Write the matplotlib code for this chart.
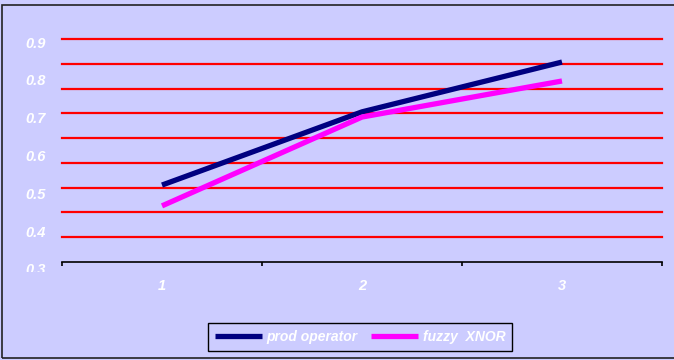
import matplotlib
matplotlib.use("Agg")
import matplotlib.pyplot as plt
from matplotlib.patches import Rectangle
from matplotlib.transforms import ScaledTranslation, Bbox
import numpy as np

# series values per trial
categories = ["1", "2", "3"]
prod_operator = [0.507, 0.704, 0.838]
fuzzy_xnor = [0.451, 0.690, 0.787]

y_labels = ["0.3", "0.4", "0.5", "0.6", "0.7", "0.8", "0.9"]
y_min, y_max = 0.3, 0.9

bg = "#CCCCFF"
plt.rcParams["font.family"] = ["Liberation Sans", "DejaVu Sans"]

fig = plt.figure(figsize=(6.74, 3.60), dpi=100, facecolor=bg)
ax = fig.add_axes([62 / 674, 98 / 360, 600 / 674, 223 / 360], facecolor=bg)

x = np.arange(1, len(categories) + 1)

# red grid: nine even bands across the value range
for g in np.linspace(y_min, y_max, 10)[1:]:
    ax.axhline(g, color="#FF0000", lw=1.6, zorder=1, clip_on=False)

ax.plot(x, prod_operator, color="#000080", lw=3.8, label="prod operator",
        solid_capstyle="butt", zorder=3)
ax.plot(x, fuzzy_xnor, color="#FF00FF", lw=3.8, label="fuzzy  XNOR",
        solid_capstyle="butt", zorder=4)

ax.set_xlim(0.5, len(categories) + 0.5)
ax.set_ylim(y_min, y_max)

for s in ["top", "right", "left"]:
    ax.spines[s].set_visible(False)
ax.spines["bottom"].set_color("black")
ax.spines["bottom"].set_linewidth(1.2)

txt = dict(color="white", fontweight="bold", fontstyle="italic", fontsize=10.5)

ax.set_yticks([float(v) for v in y_labels])
ax.set_yticklabels(y_labels, **txt)
ax.tick_params(axis="y", length=0, pad=12)

# value labels sit a little lower than their grid values, more so near the bottom
for lab, v in zip(ax.get_yticklabels(), y_labels):
    drop = 3 + (y_max - float(v)) / (y_max - y_min) * 4
    lab.set_transform(lab.get_transform()
                      + ScaledTranslation(0, -drop / 100, fig.dpi_scale_trans))
# lowest label is cut off by the chart area just under the axis
low = ax.get_yticklabels()[0]
low.set_clip_on(True)
low.set_clip_box(Bbox.from_extents(0, 360 - 272, 674, 360))

ax.set_xticks(x)
ax.set_xticklabels(categories, **txt)
ax.set_xticks(np.arange(0.5, len(categories) + 1), minor=True)
ax.tick_params(axis="x", which="major", length=0, pad=12)
ax.tick_params(axis="x", which="minor", length=3, width=1.2, color="black")

leg = ax.legend(loc="center", bbox_to_anchor=(360 / 674, 23 / 360),
                bbox_transform=fig.transFigure, ncol=2, frameon=True,
                fancybox=False, edgecolor="black", facecolor=bg,
                framealpha=1, handlelength=3.4, columnspacing=1.0,
                borderpad=0.5, handletextpad=0.3,
                prop=dict(family="Liberation Sans", weight="bold",
                          style="italic", size=10))
leg.get_frame().set_linewidth(1.0)
for t in leg.get_texts():
    t.set_color("white")

# chart area border (right edge runs off the image)
fig.patches.append(Rectangle((2 / 674, 2 / 360), 1.0, 353 / 360,
                             transform=fig.transFigure, fill=False,
                             edgecolor="#222222", lw=1.2))

fig.savefig("out.png", dpi=100, facecolor=bg)
